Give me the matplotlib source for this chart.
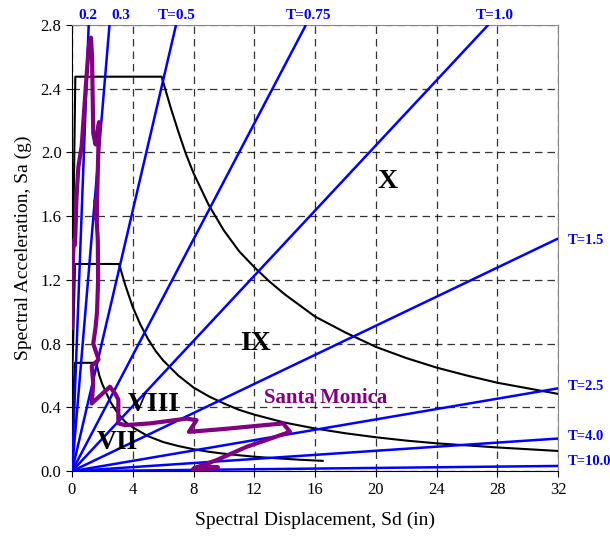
import numpy as np
import matplotlib.pyplot as plt

# %% Data
# constant-period lines: origin to end point (Sd in, Sa g)
period_labels = ['0.2', '0.3', 'T=0.5', 'T=0.75', 'T=1.0', 'T=1.5', 'T=2.5', 'T=4.0', 'T=10.0']
period_end_sd = [1.10, 2.47, 6.85, 15.4, 27.4, 32.0, 32.0, 32.0, 32.0]
period_end_sa = [2.80, 2.80, 2.80, 2.80, 2.80, 1.46, 0.52, 0.205, 0.033]

# demand spectra by zone
zone_x_sd = [0.0, 0.1, 0.22, 5.9, 6.5, 7.0, 7.5, 8.0, 9.0, 10.0, 11.0, 12.0, 13.0, 14.0,
             15.0, 16.0, 18.0, 20.0, 22.0, 24.0, 26.0, 28.0, 30.0, 32.0]
zone_x_sa = [1.0, 1.6, 2.475, 2.475, 2.28, 2.13, 1.99, 1.87, 1.67, 1.51, 1.38, 1.28, 1.19,
             1.11, 1.04, 0.97, 0.87, 0.78, 0.71, 0.65, 0.60, 0.555, 0.52, 0.485]

zone_ix_sd = [0.0, 0.1, 0.2, 3.1, 3.5, 4.0, 4.5, 5.0, 5.5, 6.0, 7.0, 8.0, 9.0, 10.0, 11.0,
              12.0, 14.0, 16.0, 18.0, 20.0, 22.0, 24.0, 26.0, 28.0, 30.0, 32.0]
zone_ix_sa = [0.52, 0.9, 1.30, 1.30, 1.17, 1.03, 0.92, 0.83, 0.755, 0.695, 0.60, 0.525, 0.47,
              0.425, 0.385, 0.355, 0.305, 0.268, 0.238, 0.213, 0.192, 0.175, 0.162, 0.149,
              0.138, 0.127]

zone_viii_sd = [0.0, 0.1, 0.2, 1.6, 1.8, 2.0, 2.5, 3.0, 3.5, 4.0, 5.0, 6.0, 7.0, 8.0, 9.0,
                10.0, 11.0, 12.0, 13.0, 14.0, 15.0, 16.5]
zone_viii_sa = [0.27, 0.5, 0.68, 0.68, 0.60, 0.545, 0.44, 0.365, 0.31, 0.275, 0.22, 0.183,
                0.158, 0.138, 0.122, 0.11, 0.10, 0.091, 0.084, 0.078, 0.072, 0.065]

# Santa Monica record
sm_sd = [0.0, 0.05, 0.12, 0.2, 0.3, 0.42, 0.64, 0.9, 1.1, 1.25, 1.32, 1.40, 1.55, 1.78,
         1.62, 1.55, 1.70, 1.72, 1.65, 1.55, 1.40, 1.75, 1.30, 1.40, 1.30, 2.50, 2.83,
         3.05, 3.05, 3.49, 5.13, 7.55, 8.2, 7.7, 10.0, 13.9, 14.35, 11.5, 9.5, 8.6,
         8.0, 8.6, 9.6, 9.0, 8.0]
sm_sa = [0.90, 1.30, 1.45, 1.42, 1.72, 1.91, 2.04, 2.40, 2.66, 2.72, 2.60, 2.12, 2.05, 2.19,
         1.58, 1.70, 1.45, 1.20, 1.00, 0.90, 0.80, 0.70, 0.66, 0.55, 0.425, 0.53, 0.488,
         0.45, 0.30, 0.289, 0.30, 0.33, 0.32, 0.247, 0.265, 0.30, 0.247, 0.153, 0.069, 0.038,
         0.017, 0.030, 0.025, 0.008, 0.005]

# %% Plot
plt.rcParams['font.family'] = 'Liberation Serif'
fig = plt.figure(figsize=(6.10, 5.41), dpi=100)
ax = fig.add_axes([0.118, 0.129, 0.797, 0.825])

for sd, sa in zip(period_end_sd, period_end_sa):
    ax.plot([0, sd], [0, sa], color='#0000ff', lw=1.8, zorder=3, solid_capstyle='butt')

for sd, sa in [(zone_x_sd, zone_x_sa), (zone_ix_sd, zone_ix_sa), (zone_viii_sd, zone_viii_sa)]:
    ax.plot(sd, sa, color='black', lw=1.5, zorder=2)

ax.plot(sm_sd, sm_sa, color='#800080', lw=3.0, zorder=4, solid_joinstyle='round')

ax.set_xlim(0, 32)
ax.set_ylim(0, 2.8)
ax.set_xticks(np.arange(0, 33, 4))
ax.set_yticks(np.arange(0, 2.81, 0.4))
ax.set_yticklabels(['%.1f' % v for v in np.arange(0, 2.81, 0.4)])
ax.tick_params(labelsize=12, direction='out', length=4)
ax.grid(True, color='black', linestyle=(0, (6, 4)), lw=0.9, alpha=0.8)
ax.set_axisbelow(True)
for s in ['top', 'right']:
    ax.spines[s].set_color('#888888')

ax.set_xlabel('Spectral Displacement, Sd (in)', fontsize=14, labelpad=10)
ax.set_ylabel('Spectral Acceleration, Sa (g)', fontsize=14, labelpad=6)

# period labels
top_x = [1.05, 3.2, 6.9, 15.6, 27.8]
for lab, x in zip(period_labels[:5], top_x):
    ax.text(x, 2.815, lab, color='#0000ff', fontsize=11, fontweight='bold',
            ha='center', va='bottom', clip_on=False)
right_y = [1.45, 0.53, 0.22, 0.06]
for lab, y in zip(period_labels[5:], right_y):
    ax.text(32.6, y, lab, color='#0000ff', fontsize=10.5, fontweight='bold',
            ha='left', va='center', clip_on=False)

# zone labels
zone_font = dict(fontsize=20, fontweight='bold', color='black', ha='center', va='center', zorder=5)
ax.text(20.8, 1.82, 'X', **zone_font)
ax.text(12.1, 0.80, 'IX', **zone_font)
ax.text(5.4, 0.42, 'VIII', **zone_font)
ax.text(3.0, 0.18, 'VII', **zone_font)
ax.text(16.7, 0.46, 'Santa Monica', fontsize=15, fontweight='bold', color='#800080',
        ha='center', va='center', zorder=5)

fig.savefig('out.png', dpi=100)
